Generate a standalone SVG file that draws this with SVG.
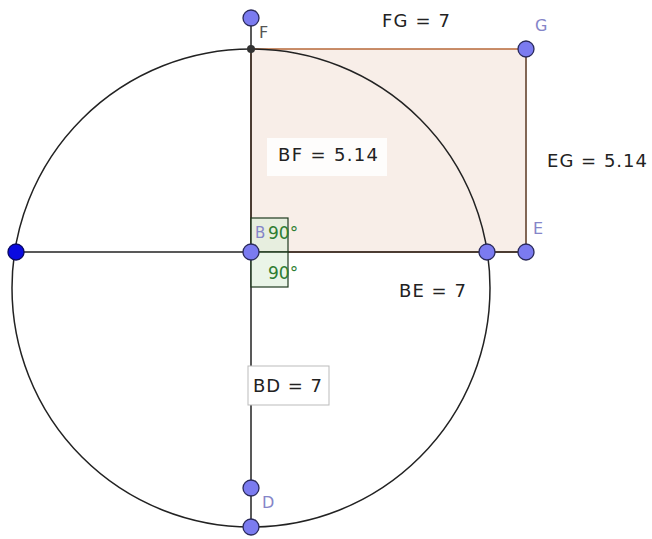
<svg xmlns="http://www.w3.org/2000/svg" width="652" height="539" viewBox="0 0 652 539">
<style>
.pt{fill:#7b7bf0;stroke:#2a2a5a;stroke-width:1.3}
.lbl{font-family:"DejaVu Sans",sans-serif;font-size:16px;fill:#8585c8}
.val{font-family:"DejaVu Sans",sans-serif;font-size:18px;fill:#222}
.ang{font-family:"DejaVu Sans",sans-serif;font-size:17px;fill:#2e7d32}
.ln{stroke:#222;stroke-width:1.5;fill:none}
</style>
<rect width="652" height="539" fill="#fff"/>
<g id="rectFGEB">
<rect x="251" y="49" width="275" height="203" fill="#f8eee8" stroke="#b86a3a" stroke-width="1.5"/>
</g>
<g id="connectors">
<circle cx="251" cy="288" r="239" class="ln"/>
<line x1="16" y1="252" x2="526" y2="252" class="ln"/>
<line x1="251" y1="18" x2="251" y2="527" class="ln"/>
<line x1="526" y1="49" x2="526" y2="252" stroke="#6a5a50" stroke-width="1.5"/>
</g>
<g id="angles">
<rect x="251" y="218" width="37" height="34" fill="#dcefd8" fill-opacity="0.6" stroke="#1e3a1e" stroke-width="1.2"/>
<rect x="251" y="252" width="37" height="35" fill="#dcefd8" fill-opacity="0.6" stroke="#1e3a1e" stroke-width="1.2"/>
<text class="lbl" x="255" y="238" font-size="15" style="font-size:15px">B</text>
<text class="ang" x="268" y="239">90°</text>
<text class="ang" x="268" y="279">90°</text>
</g>
<g id="F">
<circle cx="251" cy="18" r="8" class="pt"/>
<circle cx="251" cy="49" r="4" fill="#333"/>
<text class="lbl" x="259" y="38" style="fill:#555">F</text>
</g>
<g id="G">
<circle cx="526" cy="49" r="8" class="pt"/>
<text class="lbl" x="535" y="31">G</text>
</g>
<g id="E">
<circle cx="526" cy="252" r="8" class="pt"/>
<text class="lbl" x="533" y="234">E</text>
</g>
<g id="I">
<circle cx="487" cy="252" r="8" class="pt"/>
</g>
<g id="B">
<circle cx="251" cy="252" r="8" class="pt"/>
</g>
<g id="A">
<circle cx="16" cy="252" r="8" fill="#0a0ae0" stroke="#0a0a60" stroke-width="1.3"/>
</g>
<g id="D">
<circle cx="251" cy="488" r="8" class="pt"/>
<text class="lbl" x="262" y="508">D</text>
</g>
<g id="H">
<circle cx="251" cy="527" r="8" class="pt"/>
</g>
<g id="labels">
<text class="val" x="382" y="27" textLength="68" lengthAdjust="spacing">FG = 7</text>
<rect x="267" y="138" width="120" height="38" fill="#fff" fill-opacity="0.85"/>
<text class="val" x="278" y="161" textLength="100" lengthAdjust="spacing">BF = 5.14</text>
<text class="val" x="547" y="167" textLength="100" lengthAdjust="spacing">EG = 5.14</text>
<text class="val" x="399" y="297" textLength="67" lengthAdjust="spacing">BE = 7</text>
<rect x="248" y="366" width="81" height="39" fill="#fff" stroke="#bbb" stroke-width="1"/>
<text class="val" x="253" y="392" textLength="69" lengthAdjust="spacing">BD = 7</text>
</g>
</svg>
